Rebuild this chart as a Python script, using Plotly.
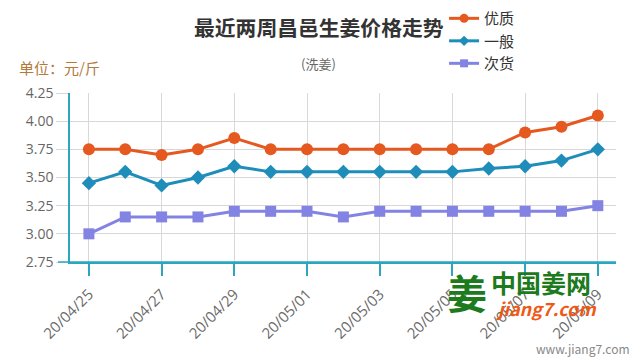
import plotly.graph_objects as go

dates = ["20/04/25", "20/04/26", "20/04/27", "20/04/28", "20/04/29", "20/04/30",
         "20/05/01", "20/05/02", "20/05/03", "20/05/04", "20/05/05", "20/05/06",
         "20/05/07", "20/05/08", "20/05/09"]
tick_labels = dates[::2]
youzhi = [3.75, 3.75, 3.70, 3.75, 3.85, 3.75, 3.75, 3.75, 3.75, 3.75, 3.75, 3.75, 3.90, 3.95, 4.05]
yiban = [3.45, 3.55, 3.43, 3.50, 3.60, 3.55, 3.55, 3.55, 3.55, 3.55, 3.55, 3.58, 3.60, 3.65, 3.75]
cihuo = [3.00, 3.15, 3.15, 3.15, 3.20, 3.20, 3.20, 3.15, 3.20, 3.20, 3.20, 3.20, 3.20, 3.20, 3.25]
series_names = ["优质", "一般", "次货"]

CJK = "Noto Sans CJK SC"
teal = "#2ba6bf"

styles = [
    dict(color="#e5581f", symbol="circle", size=12),
    dict(color="#1f8dba", symbol="diamond", size=11),
    dict(color="#8383e3", symbol="square", size=11),
]

fig = go.Figure()
for name, vals, st in zip(series_names, [youzhi, yiban, cihuo], styles):
    fig.add_trace(go.Scatter(x=dates, y=vals, name=name, mode="lines+markers", showlegend=False,
                             line=dict(color=st["color"], width=3),
                             marker=dict(symbol=st["symbol"], size=st["size"], color=st["color"])))
# legend entries with smaller symbols, as in the reference
for name, st in zip(series_names, styles):
    fig.add_trace(go.Scatter(x=[None], y=[None], name=name, mode="lines+markers", showlegend=True,
                             line=dict(color=st["color"], width=3),
                             marker=dict(symbol=st["symbol"], size=st["size"] - 3, color=st["color"])))

fig.update_layout(
    width=632, height=352,
    margin=dict(l=62, r=24, t=85, b=98, autoexpand=False),
    paper_bgcolor="white", plot_bgcolor="white",
    font=dict(family=CJK, color="#555"),
    showlegend=True,
    legend=dict(xref="container", yref="paper", x=0.69, y=1.538, xanchor="left", yanchor="top",
                font=dict(size=15, color="#333", family=CJK), tracegroupgap=0,
                itemwidth=30, bgcolor="rgba(0,0,0,0)"),
    xaxis=dict(type="category", range=[-0.52, 14.5], tickmode="array",
               tickvals=tick_labels, ticktext=tick_labels, tickangle=-45,
               showline=True, linecolor=teal, linewidth=1.5,
               ticks="outside", ticklen=12, tickcolor=teal, tickwidth=1.5,
               ticklabelstandoff=4,
               showgrid=True, gridcolor="#d8d8d8", gridwidth=1,
               tickfont=dict(size=15, color="#6a6a6a", family="Open Sans")),
    yaxis=dict(range=[2.75, 4.25], tickvals=[2.75, 3.0, 3.25, 3.5, 3.75, 4.0, 4.25],
               tickformat=".2f", showline=True, linecolor=teal, linewidth=1.5,
               ticks="outside", ticklen=12, tickcolor="#d8d8d8",
               showgrid=True, gridcolor="#d8d8d8", gridwidth=1, zeroline=False,
               tickfont=dict(size=14, color="#666", family="Open Sans")),
)

fig.add_shape(type="line", xref="paper", yref="paper", x0=-0.022, x1=1.0, y0=0, y1=0,
              line=dict(color=teal, width=1.5))

annots = [
    dict(text="<b>最近两周昌邑生姜价格走势</b>", x=319, y=27, size=20.8, color="#333", anchor="center"),
    dict(text="(洗姜)", x=318, y=63, size=13, color="#666", anchor="center"),
    dict(text="单位：元/斤", x=17, y=67, size=15, color="#b07a3a", anchor="left"),
    dict(text="www.jiang7.com", x=632, y=348, size=12, color="#888", anchor="right"),
    dict(text="<b>中国姜网</b>", x=489, y=282, size=25, color="#1d7a1d", anchor="left"),
    dict(text="<b><i>jiang7.com</i></b>", x=494, y=308, size=18, color="#ee5a16", anchor="left"),
    dict(text="<b>姜</b>", x=467, y=292, size=40, color="#1d7a1d", anchor="center"),
]
for a in annots:
    fig.add_annotation(text=a["text"], xref="paper", yref="paper",
                       x=(a["x"] - 70) / 546, y=(262 - a["y"]) / 169,
                       xanchor=a["anchor"], yanchor="middle", showarrow=False,
                       font=dict(size=a["size"], color=a["color"], family=CJK))

fig.write_html("out.html")
